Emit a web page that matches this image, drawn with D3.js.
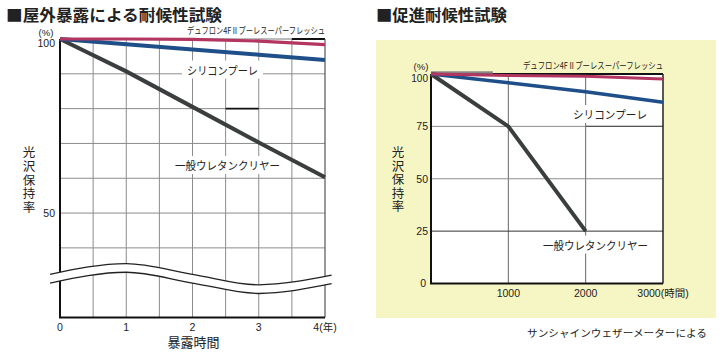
<!DOCTYPE html>
<html><head><meta charset="utf-8">
<script src="https://cdn.jsdelivr.net/npm/d3@7"></script>
<style>
html,body{margin:0;padding:0;background:#fff;}
svg{display:block;}
text{font-family:"Liberation Sans","Noto Sans CJK JP",sans-serif;fill:#222;}
.jp{font-family:"Noto Sans CJK JP",sans-serif;}
.vt{writing-mode:vertical-rl;}
</style></head>
<body>
<svg id="c" width="727" height="356"></svg>
<script>
// ---------- data ----------
const leftTitle = "■屋外暴露による耐候性試験";
const rightTitle = "■促進耐候性試験";
const seriesNames = ["デュフロン4FⅡプーレスーパーフレッシュ", "シリコンプーレ", "一般ウレタンクリヤー"];
const yTitle = "光沢保持率";
const leftXTitle = "暴露時間";
const footnote = "サンシャインウェザーメーターによる";

const leftYears = [0, 1, 2, 3, 4];
const leftFluoro = [100, 100, 99.9, 99.4, 98.4];
const leftSilicone = [100, 98.5, 97, 95.5, 94];
const leftUrethane = [100, 90.7, 80.5, 70.3, 60.3];
const leftXTicks = [0, 1, 2, 3, 4];
const leftXTickLabels = ["0", "1", "2", "3", "4(年)"];
const leftXGrid = [0.5, 1, 1.5, 2, 2.5, 3, 3.5];
const leftYGrid = [90, 80, 70, 60, 50, 40];
const leftYTicks = [100, 50];

const rightHours = [0, 1000, 2000, 3000];
const rightFluoro = [100, 99.3, 98.9, 97.6];
const rightSilicone = [100, 95.8, 91.5, 86.5];
const rightUrethaneHours = [0, 1000, 2000];
const rightUrethane = [100, 75, 25];
const rightXTicks = [1000, 2000, 3000];
const rightXTickLabels = ["1000", "2000", "3000(時間)"];
const rightYTicks = [100, 75, 50, 25, 0];

// axis-break wave (control points, year / % units)
const waveX = [-0.15, 1, 2, 3, 4.1];
const waveUpper = [32.4, 35.5, 32.4, 29.4, 32.2];
const waveLower = [29.9, 33.0, 29.9, 26.9, 29.7];

// ---------- styles ----------
const RED = "#b2365f", BLUE = "#1f4f88", BLACK = "#3b3e3e", GRID = "#8c8c8c";

const svg = d3.select("#c");

// ---------- LEFT CHART ----------
const xL = d3.scaleLinear().domain([0, 4]).range([60, 325]);
const yL = d3.scaleLinear().domain([20, 100]).range([317.5, 39]);
const gL = svg.append("g");

gL.append("rect").attr("x", xL(0)).attr("y", yL(100)).attr("width", xL(4) - xL(0)).attr("height", yL(20) - yL(100)).attr("fill", "#fff");
gL.selectAll(".vg").data(leftXGrid).join("line")
  .attr("x1", d => xL(d)).attr("x2", d => xL(d)).attr("y1", yL(100)).attr("y2", yL(20))
  .attr("stroke", GRID).attr("stroke-width", 1);
gL.selectAll(".hg").data(leftYGrid).join("line")
  .attr("x1", xL(0)).attr("x2", xL(4)).attr("y1", d => yL(d)).attr("y2", d => yL(d))
  .attr("stroke", GRID).attr("stroke-width", 1);
// top and right border
gL.append("line").attr("x1", xL(0)).attr("x2", xL(4)).attr("y1", yL(100)).attr("y2", yL(100)).attr("stroke", "#777").attr("stroke-width", 1);
gL.append("line").attr("x1", xL(3.5)).attr("x2", xL(4)).attr("y1", yL(100)).attr("y2", yL(100)).attr("stroke", "#111").attr("stroke-width", 2);
gL.append("line").attr("x1", xL(4)).attr("x2", xL(4)).attr("y1", yL(100)).attr("y2", yL(20)).attr("stroke", "#555").attr("stroke-width", 1.2);
gL.append("line").attr("x1", xL(2.5)).attr("x2", xL(3)).attr("y1", yL(80)).attr("y2", yL(80)).attr("stroke", "#111").attr("stroke-width", 1.6);
// axes
gL.append("line").attr("x1", xL(0)).attr("x2", xL(0)).attr("y1", yL(100)).attr("y2", yL(20)).attr("stroke", "#111").attr("stroke-width", 2);
gL.append("line").attr("x1", xL(0) - 1).attr("x2", xL(4)).attr("y1", yL(20)).attr("y2", yL(20)).attr("stroke", "#111").attr("stroke-width", 2);

// labels with white backgrounds
function bgLabel(g, text, x, y, size, len) {
  const t = g.append("text").attr("class", "jp").attr("x", x).attr("y", y)
    .attr("font-size", size).attr("textLength", len).attr("lengthAdjust", "spacingAndGlyphs").text(text);
  const b = t.node().getBBox();
  g.insert("rect", () => t.node()).attr("x", b.x - 5).attr("y", b.y - 1).attr("width", b.width + 10).attr("height", b.height + 2).attr("fill", "#fff");
  return t;
}
bgLabel(gL, seriesNames[1], 187, 74.5, 11, 71);
bgLabel(gL, seriesNames[2], 175, 170, 11, 105);

// wave break
const waveArea = d3.area().x((d, i) => xL(waveX[i])).y0((d, i) => yL(waveLower[i])).y1((d, i) => yL(waveUpper[i])).curve(d3.curveMonotoneX);
gL.append("path").datum(waveX).attr("d", waveArea).attr("fill", "#fff");
const waveLine = arr => d3.line().x((d, i) => xL(waveX[i])).y((d, i) => yL(arr[i])).curve(d3.curveMonotoneX)(waveX);
gL.append("path").attr("d", waveLine(waveUpper)).attr("fill", "none").attr("stroke", "#222").attr("stroke-width", 1.3);
gL.append("path").attr("d", waveLine(waveLower)).attr("fill", "none").attr("stroke", "#222").attr("stroke-width", 1.3);

// series
const lineL = d3.line().x((d, i) => xL(leftYears[i])).y(d => yL(d));
gL.append("path").attr("d", lineL(leftUrethane)).attr("fill", "none").attr("stroke", BLACK).attr("stroke-width", 4);
gL.append("path").attr("d", lineL(leftSilicone)).attr("fill", "none").attr("stroke", BLUE).attr("stroke-width", 4);
gL.append("path").attr("d", lineL(leftFluoro)).attr("fill", "none").attr("stroke", RED).attr("stroke-width", 3.2);

gL.append("text").attr("class", "jp").attr("x", xL(4)).attr("y", 34).attr("text-anchor", "end")
  .attr("font-size", 9).attr("textLength", 138).attr("lengthAdjust", "spacingAndGlyphs").text(seriesNames[0]);

// ticks
gL.append("text").attr("x", 46).attr("y", 35.5).attr("text-anchor", "middle").attr("font-size", 9.5).text("(%)");
gL.selectAll(".yt").data(leftYTicks).join("text")
  .attr("x", 55).attr("y", d => yL(d) + 3.8 + (d === 100 ? 4 : 0)).attr("text-anchor", "end").attr("font-size", 10.5).text(d => d);
gL.selectAll(".xt").data(leftXTicks).join("text")
  .attr("x", d => xL(d)).attr("y", 331).attr("text-anchor", "middle").attr("font-size", 10.5).attr("fill", "#333")
  .text((d, i) => leftXTickLabels[i]);
gL.append("text").attr("class", "jp").attr("x", 193.5).attr("y", 346.5).attr("text-anchor", "middle").attr("font-size", 13).text(leftXTitle);
gL.append("text").attr("class", "jp vt").attr("x", 29).attr("y", 146)
  .attr("font-size", 12.5).attr("letter-spacing", 1.3).text(yTitle);
svg.append("text").attr("class", "jp").attr("x", 6).attr("y", 20.5).attr("font-size", 16).attr("font-weight", "bold")
  .attr("textLength", 216).attr("lengthAdjust", "spacingAndGlyphs").attr("fill", "#1a1a1a").text(leftTitle);

// ---------- RIGHT CHART ----------
const xR = d3.scaleLinear().domain([0, 3000]).range([431, 663]);
const yR = d3.scaleLinear().domain([0, 100]).range([283.5, 74]);
const gR = svg.append("g");
gR.append("rect").attr("x", 376).attr("y", 40).attr("width", 340).attr("height", 278).attr("fill", "#f5f6c4");
gR.append("rect").attr("x", xR(0)).attr("y", yR(100)).attr("width", xR(3000) - xR(0)).attr("height", yR(0) - yR(100)).attr("fill", "#fff");
gR.selectAll(".vg").data([1000, 2000]).join("line")
  .attr("x1", d => xR(d)).attr("x2", d => xR(d)).attr("y1", yR(100)).attr("y2", yR(0))
  .attr("stroke", "#666").attr("stroke-width", 1);
gR.selectAll(".hg").data([75, 50, 25]).join("line")
  .attr("x1", xR(0)).attr("x2", xR(3000)).attr("y1", d => yR(d)).attr("y2", d => yR(d))
  .attr("stroke", d => d === 25 ? "#333" : GRID).attr("stroke-width", 1);
gR.append("line").attr("x1", xR(2000)).attr("x2", xR(3000)).attr("y1", yR(75)).attr("y2", yR(75)).attr("stroke", "#555").attr("stroke-width", 1.3);
gR.append("line").attr("x1", xR(0)).attr("x2", xR(3000)).attr("y1", yR(100)).attr("y2", yR(100)).attr("stroke", "#111").attr("stroke-width", 2);
gR.append("line").attr("x1", xR(0)).attr("x2", xR(800)).attr("y1", yR(100) - 1.5).attr("y2", yR(100) - 1.5).attr("stroke", "#888").attr("stroke-width", 2.5);
gR.append("line").attr("x1", xR(3000)).attr("x2", xR(3000)).attr("y1", yR(100)).attr("y2", yR(0)).attr("stroke", "#222").attr("stroke-width", 1.5);
gR.append("line").attr("x1", xR(0)).attr("x2", xR(0)).attr("y1", yR(100)).attr("y2", yR(0)).attr("stroke", "#111").attr("stroke-width", 2);
gR.append("line").attr("x1", xR(0) - 1).attr("x2", xR(3000)).attr("y1", yR(0)).attr("y2", yR(0)).attr("stroke", "#111").attr("stroke-width", 2);

bgLabel(gR, seriesNames[1], 573, 119, 11, 74);
bgLabel(gR, seriesNames[2], 543, 249.5, 11, 105);

const lineR = hrs => d3.line().x((d, i) => xR(hrs[i])).y(d => yR(d));
gR.append("path").attr("d", lineR(rightUrethaneHours)(rightUrethane)).attr("fill", "none").attr("stroke", BLACK).attr("stroke-width", 4);
gR.append("path").attr("d", lineR(rightHours)(rightSilicone)).attr("fill", "none").attr("stroke", BLUE).attr("stroke-width", 3.6);
gR.append("path").attr("d", lineR(rightHours)(rightFluoro)).attr("fill", "none").attr("stroke", RED).attr("stroke-width", 3);

gR.append("text").attr("class", "jp").attr("x", xR(3000)).attr("y", 68.5).attr("text-anchor", "end")
  .attr("font-size", 9).attr("textLength", 140).attr("lengthAdjust", "spacingAndGlyphs").text(seriesNames[0]);

gR.append("text").attr("x", 421).attr("y", 69.5).attr("text-anchor", "middle").attr("font-size", 9.5).text("(%)");
gR.selectAll(".yt").data(rightYTicks).join("text")
  .attr("x", d => d === 0 ? 426 : 428).attr("y", d => yR(d) + 3.8 + (d === 100 ? 4.5 : 0)).attr("text-anchor", "end")
  .attr("font-size", d => d === 100 ? 10 : 10.5).text(d => d);
gR.selectAll(".xt").data(rightXTicks).join("text")
  .attr("x", d => xR(d)).attr("y", 297).attr("text-anchor", "middle").attr("font-size", 10.5)
  .text((d, i) => rightXTickLabels[i]);
gR.append("text").attr("class", "jp vt").attr("x", 398).attr("y", 146)
  .attr("font-size", 12.5).attr("letter-spacing", 1).text(yTitle);
svg.append("text").attr("class", "jp").attr("x", 376).attr("y", 20.5).attr("font-size", 16).attr("font-weight", "bold")
  .attr("textLength", 131).attr("lengthAdjust", "spacingAndGlyphs").attr("fill", "#1a1a1a").text(rightTitle);
svg.append("text").attr("class", "jp").attr("x", 527).attr("y", 336.5).attr("font-size", 10)
  .attr("textLength", 180).attr("lengthAdjust", "spacingAndGlyphs").text(footnote);
</script>
</body></html>
